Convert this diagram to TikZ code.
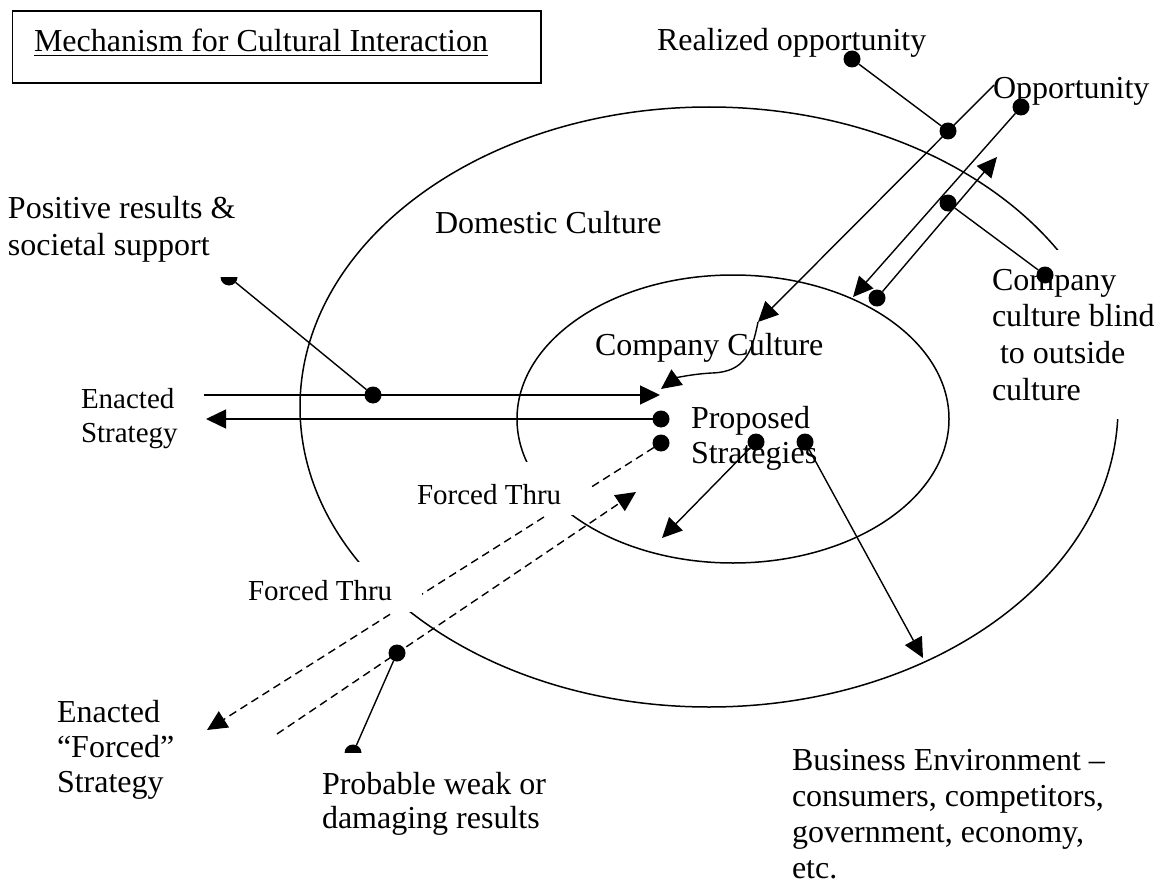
\documentclass[tikz,border=0pt]{standalone}
\usepackage{fontspec}
\setmainfont{Liberation Serif}
\usetikzlibrary{arrows.meta}
\begin{document}
\begin{tikzpicture}[x=0.5pt,y=-0.5pt,
  every node/.style={inner sep=0pt, outer sep=0pt},
  bigtxt/.style={font=\fontsize{16}{18.25}\selectfont, anchor=base west, align=left},
  smalltxt/.style={font=\fontsize{14.5}{17}\selectfont, anchor=base west, align=left},
  blob/.style={circle, fill=black, minimum size=8.5pt, inner sep=0pt},
  conn/.style={line width=0.7pt},
  arr/.style={conn, -{Triangle[length=10pt,width=9.5pt]}},
  dsh/.style={arr, dash pattern=on 4pt off 2.5pt},
  ring/.style={line width=0.75pt},
  whitemask/.style={fill=white}]
\useasboundingbox (0,0) rectangle (1162,883);

% ellipses
\draw[ring] (709,407) ellipse [x radius=204.5pt, y radius=150pt];
\draw[ring] (733,419) ellipse [x radius=108pt, y radius=72pt];

% dots that are partly hidden by labels, and the dashed line that is cut by labels
\node[blob] (pos) at (229,277) {};
\node[blob] (probend) at (353,753) {};
\node[blob] (prop2) at (661,443) {};
\coordinate (forcedtip) at (207,730);
\draw[dsh] (prop2) -- (forcedtip);

% white label backgrounds
\fill[whitemask] (398,462) rectangle (590,515);
\fill[whitemask] (229,562) rectangle (422,612);
\fill[whitemask] (973,250) rectangle (1162,419);
\fill[whitemask] (0,190) rectangle (242,277);
\fill[whitemask] (315,753) rectangle (560,845);

% title
\node[draw, line width=0.8pt, anchor=north west, minimum width=264.2pt, minimum height=36pt] (titlebox) at (12.6,11) {};
\node[bigtxt] (title) at (34,52) {\underline{Mechanism for Cultural Interaction}};

% texts (multi-line nodes are placed by the baseline of their last line)
\node[bigtxt] (realized) at (657,51) {Realized opportunity};
\node[bigtxt] (opp) at (993,99) {Opportunity};
\node[bigtxt] (domestic) at (435,233) {Domestic Culture};
\node[bigtxt, font=\fontsize{16}{18.5}\selectfont] (positive) at (8,255) {Positive results \&\\societal support};
\node[bigtxt, font=\fontsize{16}{18.3}\selectfont] (blind) at (992,400) {Company\\culture blind\\\hspace*{0.25em}to outside\\culture};
\node[bigtxt] (company) at (595,355) {Company Culture};
\node[smalltxt] (enacted) at (81,442) {Enacted\\Strategy};
\node[bigtxt, font=\fontsize{16}{17.5}\selectfont] (proposed) at (691,463) {Proposed\\Strategies};
\node[smalltxt] (forced1) at (417,504) {Forced Thru};
\node[smalltxt] (forced2) at (248,600) {Forced Thru};
\node[bigtxt, font=\fontsize{16}{17.5}\selectfont] (enforced) at (57,792) {Enacted\\“Forced”\\Strategy};
\node[bigtxt, font=\fontsize{16}{16.75}\selectfont] (probable) at (322,828) {Probable weak or\\damaging results};
\node[bigtxt, font=\fontsize{16}{18}\selectfont] (business) at (792,878) {Business Environment –\\consumers, competitors,\\government, economy,\\etc.};

% coordinates of free ends
\coordinate (upstart) at (204,395);
\coordinate (uptip) at (660,395);
\coordinate (lowtip) at (206,419);
\coordinate (rstart) at (994,85);
\coordinate (rtip) at (758,322);
\coordinate (ctip) at (661,389);
\coordinate (atip) at (853,297);
\coordinate (btip) at (997,157);
\coordinate (d2start) at (277,734);
\coordinate (d2tip) at (636,492);
\coordinate (p3tip) at (662,538);
\coordinate (p4tip) at (923,658);

% connectors
\draw[arr] (upstart) -- (uptip);
\node[blob] (prop1) at (661,419) {};
\draw[arr] (prop1) -- (lowtip);
\draw[arr] (rstart) -- (rtip);
\draw[arr] (rtip) .. controls (752,352) and (745,372) .. (712,373) .. controls (692,374) and (676,378) .. (ctip);
\node[blob] (opdot) at (1021,107) {};
\draw[arr] (opdot) -- (atip);
\node[blob] (bdot) at (877,298) {};
\draw[arr] (bdot) -- (btip);
\node[blob] (realtop) at (852,59) {};
\node[blob] (realmid) at (948,131) {};
\draw[conn] (realtop) -- (realmid);
\node[blob] (midb) at (948,203) {};
\node[blob] (blinddot) at (1045,275) {};
\draw[conn] (midb) -- (blinddot);
\node[blob] (posline) at (373,395) {};
\draw[conn] (pos) -- (posline);
\draw[dsh] (d2start) -- (d2tip);
\node[blob] (prob) at (397,653) {};
\draw[conn] (prob) -- (probend);
\node[blob] (prop3) at (756,442) {};
\node[blob] (prop4) at (805,442) {};
\draw[arr] (prop3) -- (p3tip);
\draw[arr] (prop4) -- (p4tip);
\end{tikzpicture}
\end{document}
